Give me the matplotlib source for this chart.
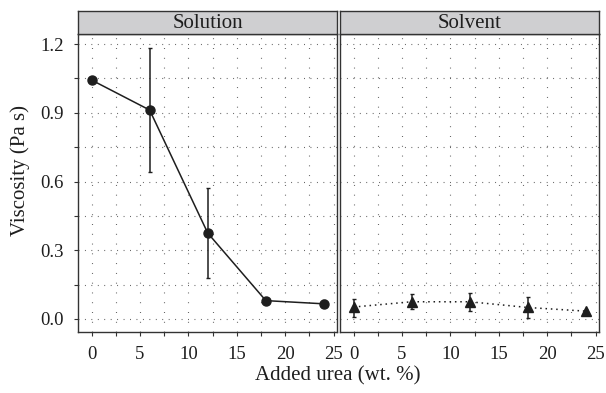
import numpy as np
import matplotlib.pyplot as plt
from matplotlib.ticker import MultipleLocator

plt.rcParams['font.family'] = ['Liberation Serif', 'DejaVu Serif']

urea = [0, 6, 12, 18, 24]

# Solution panel
sol_visc = [1.043, 0.912, 0.375, 0.080, 0.066]
sol_lo = [1.035, 0.643, 0.178, 0.074, 0.050]
sol_hi = [1.050, 1.185, 0.570, 0.086, 0.082]

# Solvent panel
solv_visc = [0.052, 0.075, 0.075, 0.050, 0.034]
solv_lo = [0.010, 0.042, 0.035, 0.005, 0.030]
solv_hi = [0.087, 0.110, 0.112, 0.095, 0.038]

panels = ['Solution', 'Solvent']
ink = '#1e1e1e'

fig = plt.figure(figsize=(6.06, 3.93), dpi=100)
W, H = 606, 393
boxes = [(78, 337), (340, 599)]
top, bottom, strip_top = 34, 332, 11


def setup(ax):
    ax.set_xlim(-1.4, 25.35)
    ax.set_ylim(-0.057, 1.244)
    ax.xaxis.set_major_locator(MultipleLocator(5))
    ax.xaxis.set_minor_locator(MultipleLocator(2.5))
    ax.yaxis.set_major_locator(MultipleLocator(0.3))
    ax.yaxis.set_minor_locator(MultipleLocator(0.15))
    for x in np.arange(0, 25.1, 2.5):
        ax.axvline(x, color='#555555', lw=0.8, ls=(0, (0.8, 8)), zorder=0)
    for y in np.arange(0, 1.21, 0.15):
        ax.axhline(y, color='#555555', lw=0.8, ls=(0, (0.8, 5)), zorder=0)
    for s in ax.spines.values():
        s.set_linewidth(1.0)
        s.set_color('#333333')
    ax.tick_params(which='both', direction='out', length=3, width=0.8, colors='#333333',
                   labelsize=13.5, labelcolor=ink, pad=7)


axes = []
for i, (x0, x1) in enumerate(boxes):
    ax = fig.add_axes([x0 / W, 1 - bottom / H, (x1 - x0) / W, (bottom - top) / H])
    setup(ax)
    axes.append(ax)
    st = fig.add_axes([x0 / W, 1 - top / H, (x1 - x0) / W, (top - strip_top) / H])
    st.set_facecolor('#cfcfd1')
    st.set_xticks([])
    st.set_yticks([])
    for s in st.spines.values():
        s.set_linewidth(1.0)
        s.set_color('#333333')
    st.text(0.5, 0.45, panels[i], ha='center', va='center', fontsize=15, color=ink)

ax1, ax2 = axes
err1 = [np.array(sol_visc) - np.array(sol_lo), np.array(sol_hi) - np.array(sol_visc)]
ax1.errorbar(urea, sol_visc, yerr=err1, color=ink, marker='o', ms=6.5, lw=1.1,
             elinewidth=1.1, capsize=1.5)

err2 = [np.array(solv_visc) - np.array(solv_lo), np.array(solv_hi) - np.array(solv_visc)]
ax2.errorbar(urea, solv_visc, yerr=err2, color=ink, marker='^', ms=7, lw=1.1,
             ls=(0, (1, 2.5)), elinewidth=1.1, capsize=1.5)
ax2.tick_params(which='both', labelleft=False, left=False)

fig.text(20 / W, 1 - 170 / H, 'Viscosity (Pa s)', ha='center', va='center',
         rotation=90, fontsize=15, color=ink)
fig.text(338 / W, 1 - 376 / H, 'Added urea (wt. %)', ha='center', va='center',
         fontsize=15, color=ink)

fig.savefig('out.png', dpi=100)
